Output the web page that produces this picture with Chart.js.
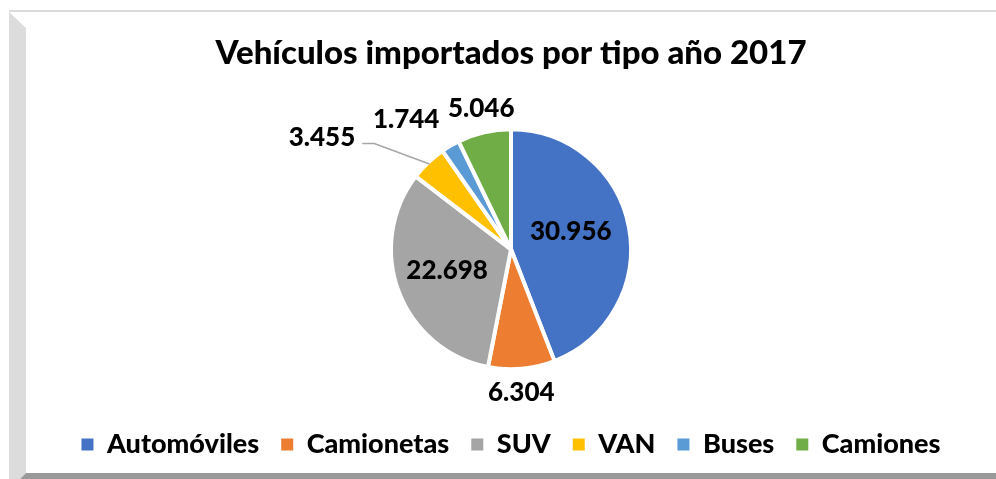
<!DOCTYPE html>
<html>
<head>
<meta charset="utf-8">
<script src="https://cdn.jsdelivr.net/npm/chart.js@4/dist/chart.umd.min.js"></script>
<style>
html,body{margin:0;padding:0;background:#fff;}
#wrap{width:996px;height:479px;position:relative;}
</style>
</head>
<body>
<div id="wrap"><canvas id="c" width="996" height="479"></canvas></div>
<script>
const chartTitle = "Vehículos importados por tipo año 2017";
const categories = ["Automóviles", "Camionetas", "SUV", "VAN", "Buses", "Camiones"];
const units = [30956, 6304, 22698, 3455, 1744, 5046];
const sliceColors = ["#4472C4", "#ED7D31", "#A5A5A5", "#FFC000", "#5B9BD5", "#70AD47"];

// label placement relative to each slice (radius factor of outer radius, angle shift in degrees)
const labelPlacement = [
  {f: 0.52, shift: -6},
  {f: 1.20, shift: 1},
  {f: 0.56, shift: 2.6},
  {f: 1.83, shift: -15.7, leader: true},
  {f: 1.39, shift: -8.6},
  {f: 1.20, shift: 1}
];

function fmt(v){ return String(v).replace(/\B(?=(\d{3})+(?!\d))/g, '.'); }

const FONT = "Lato";

const framePlugin = {
  id: 'frame',
  beforeDraw(chart){
    const ctx = chart.ctx;
    ctx.save();
    ctx.fillStyle = '#fff';
    ctx.fillRect(0,0,chart.width,chart.height);
    ctx.fillStyle = '#dcdcdc';
    ctx.fillRect(9,10,chart.width-9,2);
    ctx.beginPath();
    ctx.moveTo(9,12); ctx.lineTo(26,28); ctx.lineTo(26,473); ctx.lineTo(20,479); ctx.lineTo(9,479); ctx.closePath();
    ctx.fill();
    ctx.fillStyle = '#999999';
    ctx.beginPath();
    ctx.moveTo(26,473); ctx.lineTo(chart.width,473); ctx.lineTo(chart.width,479); ctx.lineTo(20,479); ctx.closePath();
    ctx.fill();
    ctx.restore();
  }
};

const labelPlugin = {
  id: 'pieLabels',
  afterDatasetsDraw(chart){
    const ctx = chart.ctx;
    const meta = chart.getDatasetMeta(0);
    ctx.save();
    ctx.font = "900 26px " + FONT;
    ctx.fillStyle = '#000';
    ctx.textAlign = 'center';
    ctx.textBaseline = 'middle';
    meta.data.forEach((arc, i) => {
      const p = arc.getProps(['x','y','startAngle','endAngle','outerRadius'], true);
      const mid = (p.startAngle + p.endAngle) / 2;
      const pl = labelPlacement[i];
      const a = mid + pl.shift * Math.PI / 180;
      const lx = p.x + Math.cos(a) * p.outerRadius * pl.f;
      const ly = p.y + Math.sin(a) * p.outerRadius * pl.f;
      const txt = fmt(units[i]);
      if (pl.leader) {
        const w = ctx.measureText(txt).width;
        const sx = lx + w/2 + 7, sy = ly + 6;
        const r = p.outerRadius - 2;
        const ex = p.x + Math.cos(mid) * r, ey = p.y + Math.sin(mid) * r;
        ctx.strokeStyle = '#A6A6A6';
        ctx.lineWidth = 1.5;
        ctx.beginPath();
        ctx.moveTo(sx, sy); ctx.lineTo(sx + 12, sy); ctx.lineTo(ex, ey);
        ctx.stroke();
      }
      ctx.fillText(txt, lx, ly);
    });
    ctx.restore();
  }
};

Chart.defaults.color = '#000';
Chart.defaults.font.family = FONT;

const defaultPieLabels = Chart.controllers.pie.overrides.plugins.legend.labels.generateLabels;

new Chart(document.getElementById('c'), {
  type: 'pie',
  data: {
    labels: categories,
    datasets: [{
      data: units,
      backgroundColor: sliceColors,
      borderColor: '#fff',
      borderWidth: 4
    }]
  },
  options: {
    responsive: false,
    animation: false,
    radius: 120,
    layout: {padding: {left: 26, right: 0, top: 12, bottom: 11}},
    plugins: {
      title: {
        display: true,
        text: chartTitle,
        color: '#000',
        font: {size: 33, weight: '900', family: FONT, lineHeight: 1.2},
        padding: {top: 22, bottom: 16}
      },
      legend: {
        position: 'bottom',
        labels: {
          boxWidth: 12,
          boxHeight: 12,
          padding: 22,
          color: '#000',
          font: {size: 27, weight: '900', family: FONT},
          generateLabels(chart){
            return defaultPieLabels(chart).map(l => Object.assign(l, {lineWidth: 0, strokeStyle: l.fillStyle}));
          }
        }
      },
      tooltip: {enabled: false}
    }
  },
  plugins: [framePlugin, labelPlugin]
});
</script>
</body>
</html>
